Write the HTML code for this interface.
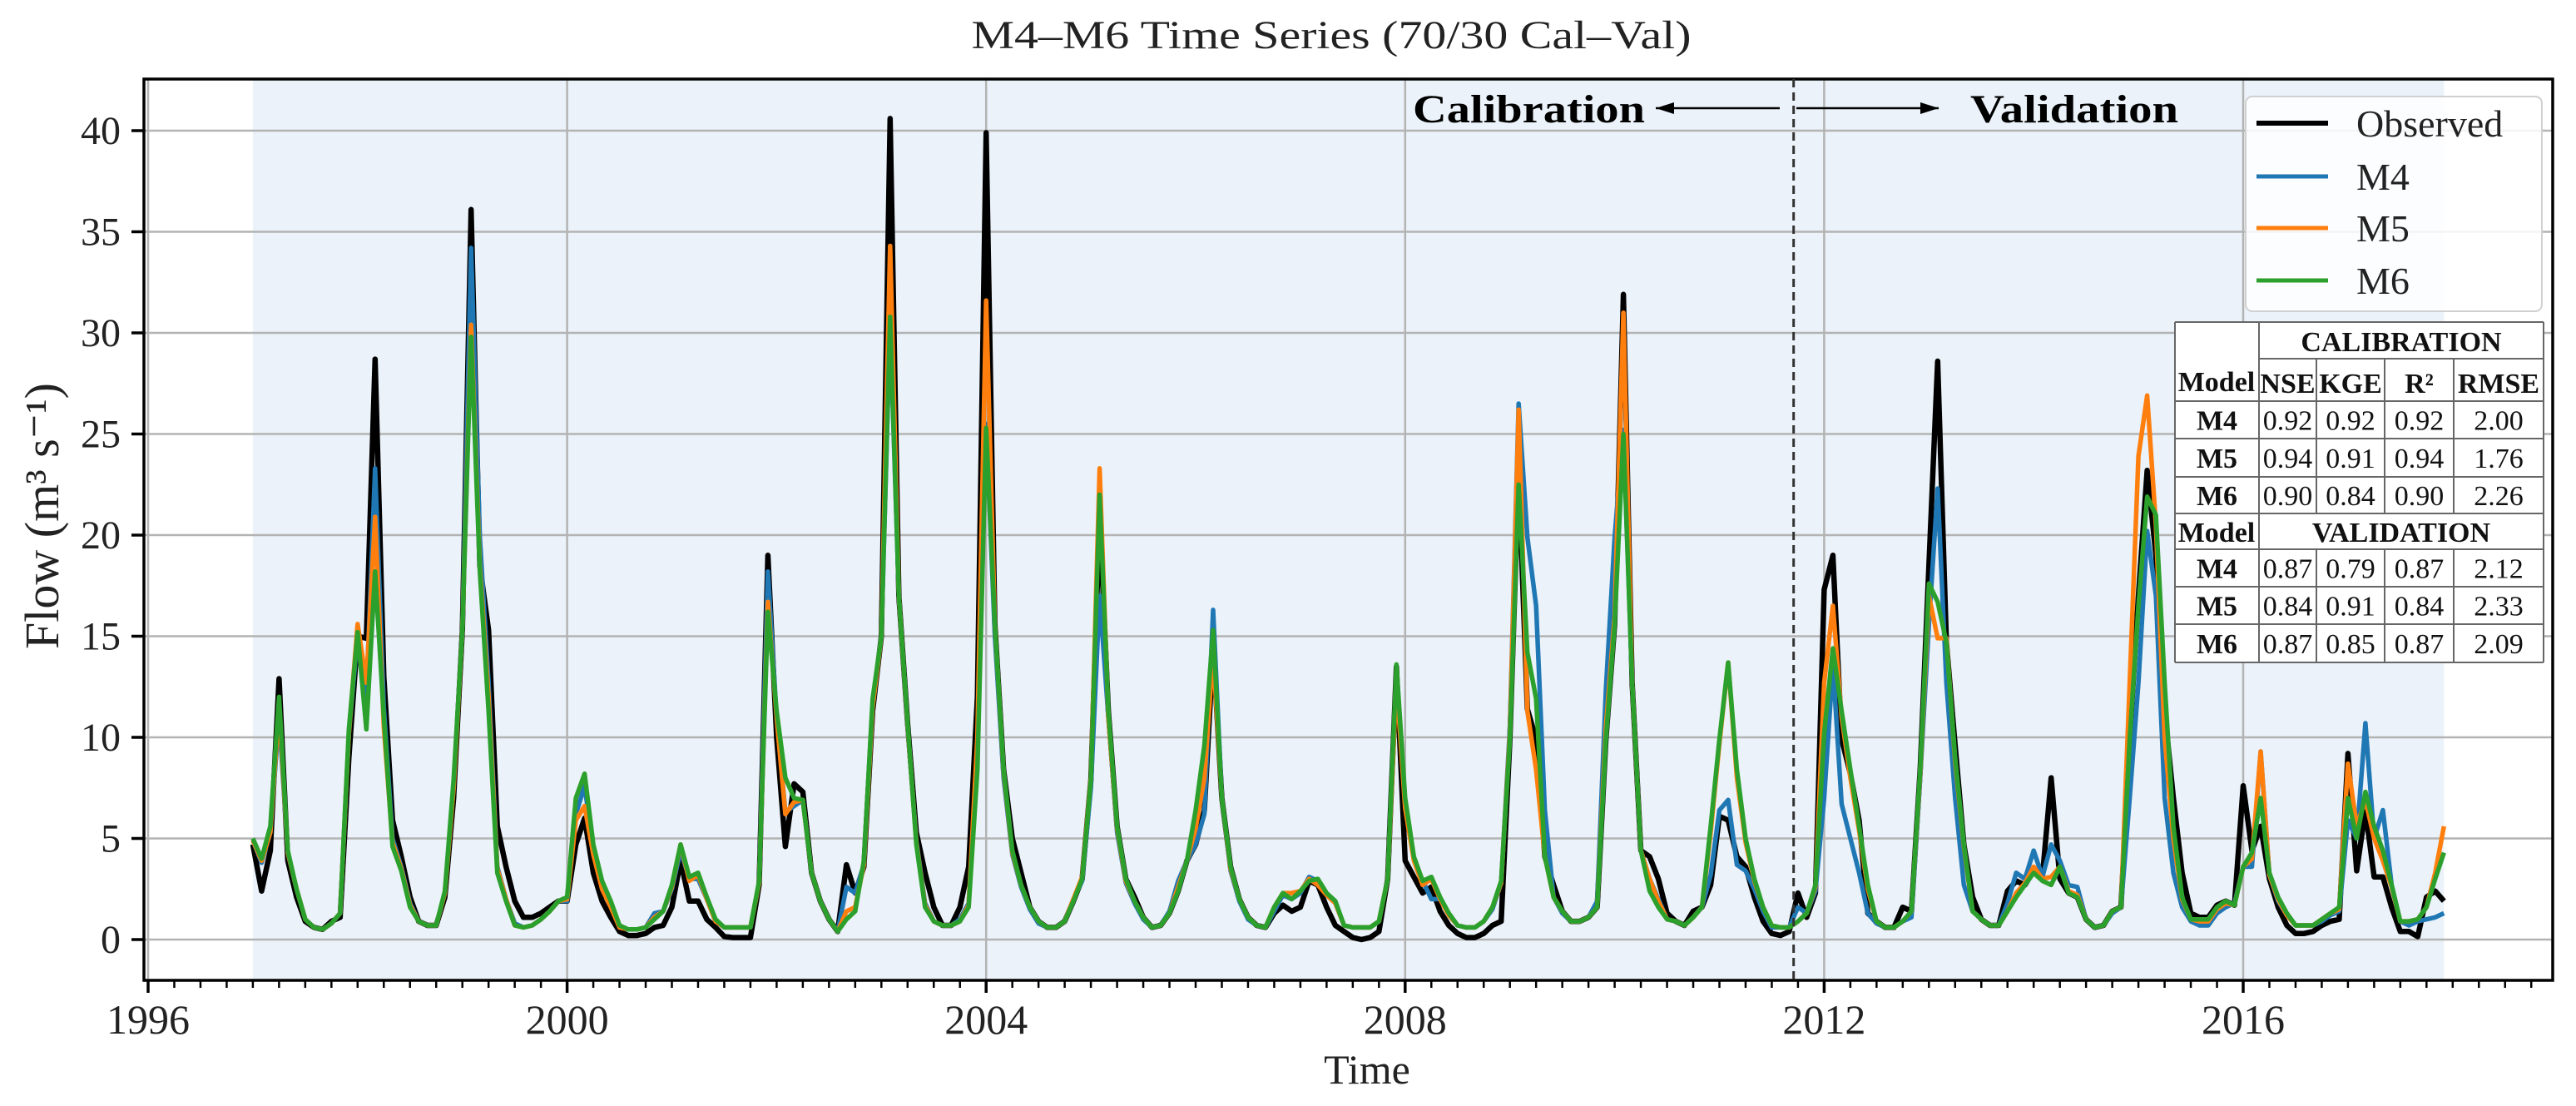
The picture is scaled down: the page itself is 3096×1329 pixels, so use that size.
<!DOCTYPE html>
<html><head><meta charset="utf-8"><title>M4–M6 Time Series</title>
<style>
html,body{margin:0;padding:0;background:#fff;}
svg{display:block;font-family:"Liberation Serif",serif;}
</style></head>
<body>
<svg id="chart" width="3096" height="1329" viewBox="0 0 3096 1329" xmlns="http://www.w3.org/2000/svg">
<defs><clipPath id="plotclip"><rect x="173" y="95" width="2895" height="1083"/></clipPath></defs>
<rect x="0" y="0" width="3096" height="1329" fill="#fff"/>
<g id="bg"></g>
<g id="grid"></g>
<g id="series" clip-path="url(#plotclip)"></g>
<g id="axes"></g>
<g id="annot"></g>
</svg>
<script>
const NS="http://www.w3.org/2000/svg";
const startYear=1997;
const splitIndex=176.5;
const yTicks=[0,5,10,15,20,25,30,35,40];
const yTickLabels=["0","5","10","15","20","25","30","35","40"];
const xTicks=[1996,2000,2004,2008,2012,2016];
const xTickLabels=["1996","2000","2004","2008","2012","2016"];
const observed=[4.7,2.4,4.4,12.9,3.9,2.1,0.9,0.6,0.5,0.9,1.1,9.0,
15.0,14.9,28.7,13.0,5.9,4.1,2.1,0.9,0.7,0.7,2.1,7.0,
15.3,36.1,18.5,15.3,5.6,3.6,1.9,1.1,1.1,1.3,1.6,1.9,
1.9,4.7,6.0,3.3,1.9,1.1,0.4,0.2,0.2,0.3,0.6,0.7,
1.6,3.9,1.9,1.9,1.0,0.6,0.15,0.1,0.1,0.1,2.7,19.0,
10.0,4.6,7.7,7.3,3.3,1.9,1.0,0.4,3.7,2.3,3.6,11.3,
15.0,40.6,17.0,10.7,5.3,3.3,1.6,0.7,0.7,1.6,3.6,12.0,
39.9,15.6,8.4,5.0,3.3,1.6,0.9,0.6,0.6,0.9,1.9,3.0,
7.9,21.0,11.3,5.6,3.0,2.1,1.1,0.6,0.7,1.3,2.4,3.9,
4.7,6.4,14.4,7.0,3.6,2.0,1.1,0.7,0.6,1.3,1.7,1.4,
1.6,2.9,2.7,1.6,0.7,0.4,0.1,0.0,0.1,0.4,3.0,13.5,
3.9,3.1,2.3,2.6,1.4,0.7,0.3,0.1,0.1,0.3,0.7,0.9,
9.9,23.0,11.4,9.9,4.1,2.7,1.4,0.9,0.9,1.1,1.6,9.9,
15.6,31.9,12.7,4.4,4.1,3.0,1.3,0.9,0.7,1.4,1.6,2.7,
6.1,5.9,4.1,3.6,2.1,0.9,0.3,0.2,0.4,2.3,1.1,2.3,
17.3,19.0,9.9,8.2,5.9,1.3,0.9,0.6,0.6,1.6,1.4,8.4,
18.5,28.6,14.7,9.6,4.7,2.1,1.0,0.7,0.7,2.4,2.9,2.7,
3.4,3.1,8.0,3.0,2.3,2.1,1.0,0.6,0.7,1.4,1.6,9.9,
17.0,23.2,19.0,11.3,7.0,3.3,1.3,1.1,1.1,1.7,1.9,1.7,
7.6,4.4,5.6,3.0,1.6,0.7,0.3,0.3,0.4,0.7,0.9,1.0,
9.2,3.4,6.4,3.1,3.1,1.6,0.4,0.4,0.15,2.1,2.4,1.9];
const m4=[4.9,3.8,5.3,11.0,4.3,2.5,1.0,0.6,0.5,0.8,1.3,10.2,
15.0,12.0,23.3,11.5,5.0,3.6,1.8,0.9,0.7,0.7,2.3,7.6,
15.3,34.2,19.9,12.7,3.6,2.0,0.8,0.6,0.7,1.0,1.4,1.9,
1.9,6.2,7.6,4.5,2.7,1.7,0.6,0.5,0.5,0.6,1.3,1.4,
2.5,4.4,3.0,3.0,2.0,0.9,0.6,0.6,0.6,0.6,2.8,18.2,
11.0,6.3,6.6,6.9,3.3,1.9,1.0,0.4,2.6,2.3,3.7,11.5,
15.0,30.5,17.0,10.5,4.9,1.8,0.9,0.7,0.7,1.0,1.8,9.0,
25.5,15.0,8.0,4.2,2.6,1.5,0.8,0.6,0.6,0.9,2.0,2.9,
7.5,17.0,11.0,5.3,2.8,1.8,1.0,0.6,0.7,1.4,2.9,3.9,
4.7,6.2,16.3,7.0,3.4,1.9,1.0,0.7,0.6,1.4,2.2,2.0,
2.3,3.1,2.9,2.2,1.8,0.7,0.6,0.6,0.6,0.9,3.0,13.2,
6.8,4.0,2.9,2.0,2.0,1.2,0.7,0.6,0.6,0.9,1.5,2.8,
10.5,26.5,19.9,16.5,6.4,2.1,1.3,0.9,0.9,1.1,1.9,12.4,
19.9,25.2,12.7,4.4,3.0,2.0,1.0,0.9,0.7,1.1,1.6,3.2,
6.4,6.9,3.7,3.4,2.5,1.4,0.6,0.6,0.6,1.6,1.3,2.4,
7.0,13.6,6.7,5.0,3.3,1.3,0.8,0.6,0.6,0.9,1.1,8.0,
15.6,22.3,12.7,7.0,2.7,1.4,1.0,0.7,0.7,1.8,3.3,3.0,
4.4,3.1,4.7,3.9,2.7,2.6,1.0,0.6,0.7,1.3,1.6,7.0,
12.7,20.2,17.0,7.0,3.3,1.6,0.9,0.7,0.7,1.3,1.6,1.8,
3.6,3.6,9.3,3.2,1.9,1.2,0.7,0.7,0.7,0.9,1.2,1.4,
5.9,5.0,10.7,5.0,6.4,2.7,0.9,0.7,0.9,1.0,1.1,1.3];
const m5=[4.9,3.9,5.3,11.5,4.3,2.5,1.0,0.6,0.5,0.8,1.3,10.2,
15.6,12.7,20.9,10.5,4.8,3.5,1.7,0.9,0.7,0.7,2.3,7.5,
15.3,30.4,18.5,12.0,3.5,2.0,0.7,0.6,0.7,1.0,1.4,1.9,
2.0,5.9,6.6,4.2,2.5,1.6,0.6,0.5,0.5,0.6,1.1,1.4,
2.6,4.7,2.9,3.2,2.0,0.9,0.6,0.6,0.6,0.6,2.8,16.7,
11.0,6.2,6.8,6.9,3.3,1.9,1.0,0.4,1.4,1.6,3.7,11.5,
15.0,34.3,17.0,10.6,4.8,1.7,0.9,0.7,0.7,0.9,1.7,10.0,
31.6,15.6,8.3,4.3,2.7,1.6,0.9,0.6,0.6,0.9,2.0,3.1,
8.0,23.3,11.0,5.5,2.9,1.9,1.1,0.6,0.7,1.3,2.6,3.9,
5.5,8.0,14.2,7.0,3.5,2.0,1.1,0.7,0.6,1.6,2.3,2.3,
2.4,3.0,2.7,2.2,1.8,0.7,0.6,0.6,0.6,0.9,3.0,12.8,
6.5,3.9,2.7,3.0,2.0,1.2,0.7,0.6,0.6,0.9,1.6,2.8,
10.2,26.2,11.3,8.4,4.1,2.1,1.4,0.9,0.9,1.1,1.6,10.5,
16.0,31.0,12.7,4.4,3.0,1.9,1.0,0.9,0.7,1.1,1.6,5.3,
9.7,13.7,8.0,4.8,2.9,1.6,0.7,0.6,0.6,0.9,1.3,2.6,
12.7,16.5,11.0,8.0,5.4,2.5,0.9,0.6,0.6,0.9,1.4,8.2,
17.0,14.9,14.9,8.8,4.6,1.4,1.0,0.7,0.7,1.4,2.3,2.8,
3.6,3.0,3.1,3.6,2.4,2.2,1.0,0.6,0.7,1.4,1.6,12.7,
23.9,26.9,20.5,10.0,5.0,2.0,1.0,0.9,0.9,1.5,1.8,1.7,
3.6,4.0,9.3,3.2,2.0,1.2,0.7,0.7,0.7,1.0,1.3,1.5,
8.7,5.6,6.9,5.0,3.9,2.6,0.9,0.9,1.0,1.6,3.3,5.6];
const m6=[5.0,4.0,5.6,12.0,4.4,2.5,1.0,0.6,0.5,0.8,1.3,10.4,
15.2,10.4,18.2,11.0,4.6,3.4,1.6,0.9,0.7,0.7,2.4,7.9,
15.3,29.8,18.2,11.3,3.3,1.9,0.7,0.6,0.7,1.0,1.4,1.9,
2.1,7.0,8.2,4.7,2.9,1.9,0.7,0.5,0.5,0.6,1.0,1.4,
2.7,4.7,3.1,3.3,2.1,1.0,0.6,0.6,0.6,0.6,2.9,16.2,
11.3,8.0,7.0,6.9,3.3,1.9,1.0,0.4,1.0,1.4,3.9,11.9,
15.0,30.8,17.0,10.7,4.7,1.6,0.9,0.7,0.7,0.9,1.6,8.4,
25.3,15.6,8.4,4.4,2.7,1.6,0.9,0.6,0.6,0.9,1.9,3.0,
7.9,22.0,11.3,5.6,3.0,1.9,1.1,0.6,0.7,1.3,2.4,3.9,
6.4,9.6,15.3,7.0,3.6,2.0,1.1,0.7,0.6,1.6,2.3,2.0,
2.4,2.9,3.0,2.3,1.9,0.7,0.6,0.6,0.6,0.9,3.0,13.6,
7.0,4.1,2.9,3.1,2.1,1.3,0.7,0.6,0.6,0.9,1.6,2.9,
9.9,22.5,14.2,11.9,4.1,2.1,1.4,0.9,0.9,1.1,1.6,9.9,
15.6,25.0,12.7,4.4,2.4,1.6,1.0,0.9,0.7,1.1,1.6,5.6,
9.9,13.7,8.4,5.0,3.0,1.6,0.7,0.6,0.6,0.9,1.3,2.7,
10.2,14.4,11.3,8.4,5.6,2.7,0.9,0.6,0.6,0.9,1.4,8.4,
17.6,16.7,14.7,9.0,4.7,1.4,1.0,0.7,0.7,1.4,2.1,2.7,
3.3,2.9,2.7,3.6,2.3,2.1,1.0,0.6,0.7,1.4,1.6,9.9,
16.5,21.9,21.0,12.7,5.6,2.1,1.0,1.0,1.0,1.6,1.9,1.7,
3.6,4.3,7.0,3.3,2.1,1.3,0.7,0.7,0.7,1.0,1.3,1.6,
7.0,5.0,7.3,5.6,4.4,2.7,0.9,0.9,1.0,1.6,3.0,4.3];
const seriesNames=["Observed","M4","M5","M6"];
const seriesColors=["#000000","#1f77b4","#ff7f0e","#2ca02c"];
const calibrationRows=[["M4","0.92","0.92","0.92","2.00"],["M5","0.94","0.91","0.94","1.76"],["M6","0.90","0.84","0.90","2.26"]];
const validationRows=[["M4","0.87","0.79","0.87","2.12"],["M5","0.84","0.91","0.84","2.33"],["M6","0.87","0.85","0.87","2.09"]];

const PL=173,PR=3068,PT=95,PB=1178;
const X0=178,PXY=125.9;
const Y0=1129,PXV=24.3;
function xs(year){return X0+(year-1996)*PXY;}
function xi(i){return xs(startYear+i/12);}
function ys(v){return Y0-v*PXV;}
function mk(tag,attrs,parent){const e=document.createElementNS(NS,tag);for(const k in attrs)e.setAttribute(k,attrs[k]);parent.appendChild(e);return e;}
const bg=document.getElementById('bg'),grid=document.getElementById('grid'),ser=document.getElementById('series'),axes=document.getElementById('axes'),annot=document.getElementById('annot');

let r=mk('rect',{x:xi(0),y:PT,width:xi(observed.length-1)-xi(0),height:PB-PT,fill:'#ebf2f9'},bg);



yTicks.forEach((v,k)=>{
  let g=mk('line',{x1:PL,x2:PR,y1:ys(v),y2:ys(v),stroke:'#b3b3b3','stroke-width':2.5},grid);
  
  
  let t=mk('line',{x1:PL-15,x2:PL,y1:ys(v),y2:ys(v),stroke:'#000','stroke-width':3.5},axes);
  
  
  let l=mk('text',{x:PL-28,y:ys(v)+16,'text-anchor':'end','font-size':48,fill:'#222'},axes);
  l.textContent=yTickLabels[k];
  
  
});
xTicks.forEach((yr,k)=>{
  let g=mk('line',{x1:xs(yr),x2:xs(yr),y1:PT,y2:PB,stroke:'#b3b3b3','stroke-width':2.5},grid);
  
  
  let l=mk('text',{x:xs(yr),y:1242,'text-anchor':'middle','font-size':50,fill:'#222'},axes);
  l.textContent=xTickLabels[k];
  
  
});
for(let q=0;q<=92;q++){
  const yr=1996+q/4; const x=xs(yr); if(x>PR) break;
  const major=(q%16===0);
  let t=mk('line',{x1:x,x2:x,y1:PB,y2:PB+(major?15:9),stroke:'#000','stroke-width':major?3.5:2.5},axes);
  
  
}

const allSeries=[observed,m4,m5,m6];
allSeries.forEach((d,s)=>{
  const pts=d.map((v,i)=>xi(i).toFixed(1)+','+ys(v).toFixed(1)).join(' ');
  let p=mk('polyline',{points:pts,fill:'none',stroke:seriesColors[s],'stroke-width':s===0?6.5:5.5,'stroke-linejoin':'round'},ser);
  
  
});

let fr=mk('rect',{x:PL,y:PT,width:PR-PL,height:PB-PT,fill:'none',stroke:'#000','stroke-width':3.5},axes);



const sx=xi(splitIndex);
let dl=mk('line',{x1:sx,x2:sx,y1:PT,y2:PB,stroke:'#333','stroke-width':3,'stroke-dasharray':'10,6'},annot);



function arrow(x1,x2,y,name){
  let g=mk('g',{},annot);
  
  
  mk('line',{x1:x1,x2:x2,y1:y,y2:y,stroke:'#000','stroke-width':2.5},g);
  const dir=x2>x1?1:-1;
  mk('polygon',{points:`${x2},${y} ${x2-dir*22},${y-7} ${x2-dir*22},${y+7}`,fill:'#000'},g);
}
arrow(2139,1990,130,'calibration-arrow');
arrow(2159,2330,130,'validation-arrow');
let ct=mk('text',{x:1698,y:147,'font-size':48,'font-weight':'bold',textLength:279,lengthAdjust:'spacingAndGlyphs'},annot);
ct.textContent='Calibration';


let vt=mk('text',{x:2368,y:147,'font-size':48,'font-weight':'bold',textLength:250,lengthAdjust:'spacingAndGlyphs'},annot);
vt.textContent='Validation';



let ti=mk('text',{x:1600,y:58,'text-anchor':'middle','font-size':48,fill:'#222',textLength:865,lengthAdjust:'spacingAndGlyphs'},annot);
ti.textContent='M4–M6 Time Series (70/30 Cal–Val)';


let xl=mk('text',{x:1643,y:1302,'text-anchor':'middle','font-size':50,fill:'#222'},annot);
xl.textContent='Time';


let yl=mk('text',{x:0,y:0,'text-anchor':'middle','font-size':58,fill:'#222',transform:'translate(70,620) rotate(-90)'},annot);
yl.textContent='Flow (m³ s⁻¹)';



let lg=mk('g',{},annot);


mk('rect',{x:2699,y:116,width:356,height:258,rx:8,fill:'#fff','fill-opacity':0.85,stroke:'#d0d0d0','stroke-width':2},lg);
const legY=[148,212,274,337];
seriesNames.forEach((n,s)=>{
  let e=mk('g',{},lg);
  
  
  mk('line',{x1:2712,x2:2798,y1:legY[s],y2:legY[s],stroke:seriesColors[s],'stroke-width':s===0?6:5},e);
  let t=mk('text',{x:2832,y:legY[s]+16,'font-size':46,fill:'#222'},e);
  t.textContent=n;
});

let tb=mk('g',{},annot);


const cx=[2614,2715,2784,2866,2949,3057];
mk('rect',{x:2614,y:387,width:443,height:409,fill:'#fff'},tb);
function cellText(x,y,txt,bold,size,name){
  let t=mk('text',{x:x,y:y,'text-anchor':'middle','font-size':size||34,'font-weight':bold?'bold':'normal',fill:'#111'},tb);
  t.textContent=txt;
  
  
  return t;
}
function hline(y,x1,x2){mk('line',{x1:x1,x2:x2,y1:y,y2:y,stroke:'#666','stroke-width':2},tb);}
function vline(x,y1,y2){mk('line',{x1:x,x2:x,y1:y1,y2:y2,stroke:'#666','stroke-width':2},tb);}
const rowY=[387,431,482,527,573,617,660,705,750,796];
hline(387,2614,3057);hline(431,2715,3057);
[482,527,573,617,660,705,750,796].forEach(y=>hline(y,2614,3057));
vline(2614,387,796);vline(3057,387,796);vline(2715,387,796);
[2784,2866,2949].forEach(x=>{vline(x,431,617);vline(x,660,796);});
cellText(2664,470,'Model',true,34,'table-model-header');
cellText(2886,422,'CALIBRATION',true,34,'table-calibration-header');
const hdr=['NSE','KGE','R²','RMSE'];
hdr.forEach((h,k)=>cellText((cx[k+1]+cx[k+2])/2,472,h,true,34,'table-metric-header'));
calibrationRows.forEach((row,ri)=>{
  const yb=(rowY[2+ri]+rowY[3+ri])/2+12;
  row.forEach((c,k)=>cellText((cx[k]+cx[k+1])/2,yb,c,k===0,34,'calibration-cell'));
});
cellText(2664,651,'Model',true,34,'table-model-header-2');
cellText(2886,651,'VALIDATION',true,34,'table-validation-header');
validationRows.forEach((row,ri)=>{
  const yb=(rowY[6+ri]+rowY[7+ri])/2+12;
  row.forEach((c,k)=>cellText((cx[k]+cx[k+1])/2,yb,c,k===0,34,'validation-cell'));
});
</script>
</body></html>
